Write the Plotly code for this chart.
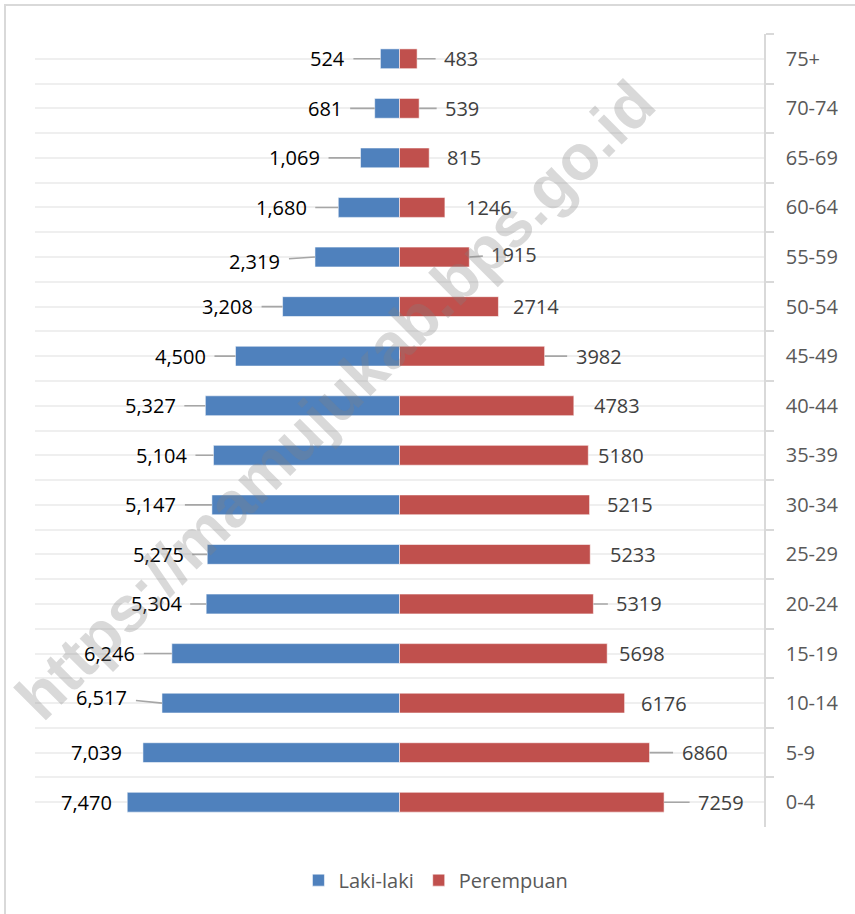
import plotly.graph_objects as go

# ---- data (top row first) ----
age_groups = ["75+", "70-74", "65-69", "60-64", "55-59", "50-54", "45-49", "40-44",
              "35-39", "30-34", "25-29", "20-24", "15-19", "10-14", "5-9", "0-4"]
laki_laki = [524, 681, 1069, 1680, 2319, 3208, 4500, 5327,
             5104, 5147, 5275, 5304, 6246, 6517, 7039, 7470]
perempuan = [483, 539, 815, 1246, 1915, 2714, 3982, 4783,
             5180, 5215, 5233, 5319, 5698, 6176, 6860, 7259]
series_names = ["Laki-laki", "Perempuan"]
watermark_text = "https://mamujukab.bps.go.id"

# ---- label placement styling (pixel offsets of data labels from bar ends) ----
left_dx = [-53, -50, -66, -57, -60, -55, -55, -55, -52, -61, -49, -50, -62, -60, -46, -41]
left_dy = [0, 0, 0, 0, 4, 0, 0, 0, 0, 0, 0, 0, 0, -6, 0, 0]
left_line = [1, 1, 1, 1, 1, 1, 1, 1, 1, 1, 1, 1, 1, 1, 0, 0]
right_dx = [44, 43, 35, 44, 45, 38, 54, 43, 33, 40, 43, 46, 35, 39, 55, 57]
right_dy = [0, 0, 0, 0, -3, 0, 0, 0, 0, 0, 0, 0, 0, 0, 0, 0]
right_line = [1, 1, 0, 0, 1, 0, 1, 0, 0, 0, 0, 1, 0, 0, 1, 1]

BLUE = "#4F81BD"
RED = "#C0504D"
FONT = "Open Sans"
n = len(age_groups)

fig = go.Figure()
fig.add_trace(go.Bar(
    y=age_groups, x=[-v for v in laki_laki], orientation="h",
    name=series_names[0], marker=dict(color=BLUE, line=dict(color="rgba(255,255,255,0.55)", width=1)),
    hoverinfo="skip"))
fig.add_trace(go.Bar(
    y=age_groups, x=perempuan, orientation="h",
    name=series_names[1], marker=dict(color=RED, line=dict(color="rgba(255,255,255,0.55)", width=1)),
    hoverinfo="skip"))
# invisible helper trace to drive the centre gridlines on the overlay axis
fig.add_trace(go.Scatter(
    y=age_groups, x=[0] * n, yaxis="y2", mode="markers",
    marker=dict(opacity=0), showlegend=False, hoverinfo="skip"))

annotations = []
for i, cat in enumerate(age_groups):
    annotations.append(dict(
        x=-laki_laki[i], y=cat, xref="x", yref="y",
        text=f"{laki_laki[i]:,}", showarrow=True, ax=left_dx[i], ay=left_dy[i],
        arrowhead=0, arrowwidth=1.6, startstandoff=7,
        arrowcolor="#a6a6a6" if left_line[i] else "rgba(0,0,0,0)",
        font=dict(family=FONT, size=20, color="#000000")))
    annotations.append(dict(
        x=perempuan[i], y=cat, xref="x", yref="y",
        text=f"{perempuan[i]}", showarrow=True, ax=right_dx[i], ay=right_dy[i],
        arrowhead=0, arrowwidth=1.6, startstandoff=7,
        arrowcolor="#a6a6a6" if right_line[i] else "rgba(0,0,0,0)",
        font=dict(family=FONT, size=20, color="#404040")))

annotations.append(dict(
    x=0.412, y=0.538, xref="paper", yref="paper", text=watermark_text,
    showarrow=False, textangle=-45, xanchor="center", yanchor="middle",
    font=dict(family="Liberation Sans", size=64, color="rgba(128,128,128,0.3)", weight="bold")))

yr = [n - 0.5, -0.5]
fig.update_layout(
    width=855, height=914,
    margin=dict(l=35, r=91, t=34, b=87),
    paper_bgcolor="white", plot_bgcolor="white",
    barmode="relative", bargap=0.6,
    font=dict(family=FONT, size=20, color="#595959"),
    xaxis=dict(range=[-10000, 10000], showgrid=False, zeroline=False,
               showticklabels=False, ticks="", showline=False, fixedrange=True),
    yaxis=dict(type="category", categoryorder="array", categoryarray=age_groups,
               range=yr, side="right", showline=True, linecolor="#d9d9d9", linewidth=1.5,
               ticks="outside", tickson="boundaries", ticklen=8, tickwidth=1.5,
               tickcolor="#d9d9d9", showgrid=True, gridcolor="#efefef", gridwidth=1.5,
               ticklabelstandoff=16,
               tickfont=dict(family=FONT, size=20, color="#595959")),
    yaxis2=dict(type="category", categoryorder="array", categoryarray=age_groups,
                range=yr, overlaying="y", side="right", showticklabels=False,
                ticks="", showline=False, showgrid=True, gridcolor="#efefef",
                gridwidth=1.5, zeroline=False),
    legend=dict(orientation="h", x=0.55, xanchor="center", y=-0.067, yanchor="middle",
                font=dict(family=FONT, size=20, color="#595959"), traceorder="normal"),
    annotations=annotations,
    shapes=[dict(type="rect", xref="paper", yref="paper",
                 x0=(5 - 35) / 729, x1=(870 - 35) / 729,
                 y0=(827 - 930) / 793, y1=(827 - 5) / 793,
                 line=dict(color="#d9d9d9", width=2), fillcolor="rgba(0,0,0,0)", layer="below")],
)

fig.write_html("out.html", config={"displayModeBar": False},
               post_script="document.body.style.margin='0';")
